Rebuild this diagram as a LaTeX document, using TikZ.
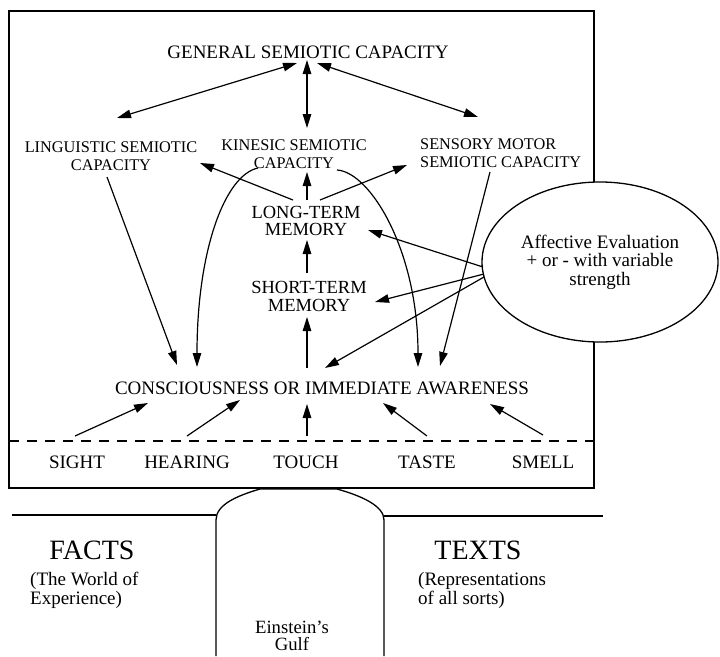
\documentclass[tikz,border=0pt]{standalone}
\usepackage{fontspec}
\setmainfont{Liberation Serif}
\usetikzlibrary{arrows.meta,positioning,shapes.geometric,calc}

\begin{document}
\begin{tikzpicture}[x=1pt, y=-1pt,
  lbl/.style={inner sep=0pt, font=\fontsize{19}{19}\selectfont},
  capl/.style={inner sep=0pt, align=center, font=\fontsize{16.3}{18}\selectfont},
  meml/.style={inner sep=0pt, align=center, font=\fontsize{18.5}{17.5}\selectfont},
  world/.style={inner sep=0pt, font=\fontsize{28}{28}\selectfont},
  note/.style={inner sep=0pt, align=left, anchor=west, font=\fontsize{19}{19}\selectfont},
  frame/.style={line width=1.3pt},
  flow/.style={-{Triangle[length=14pt,width=8.5pt]}, line width=1.2pt},
  both/.style={{Triangle[length=14pt,width=8.5pt]}-{Triangle[length=14pt,width=8.5pt]}, line width=1.2pt}]
\useasboundingbox (0,0) rectangle (720,656);

% mind box
\draw[frame] (9,11) rectangle (594,488);
\draw[frame, dash pattern=on 10pt off 8pt] (9,441) -- (594,441);

% facts / texts ground line and the gulf
\draw[frame] (12,515) -- (216,515);
\draw[frame] (384,516) -- (603,516);
\draw[frame] (216,656) -- (216,520) .. controls (216,505) and (236,496) .. (260,489)
  -- (337,489) .. controls (362,496) and (384,506) .. (384,520) -- (384,656);

\node[lbl] (gen) at (308,52) {GENERAL SEMIOTIC CAPACITY};
\node[capl] (ling) at (111,156) {LINGUISTIC SEMIOTIC\\CAPACITY};
\node[capl] (kin) at (294,154.5) {KINESIC SEMIOTIC\\CAPACITY};
\node[capl, align=left, anchor=west] (sens) at (420,153.5) {SENSORY MOTOR\\SEMIOTIC CAPACITY};
\node[meml] (ltm) at (306,221) {LONG-TERM\\MEMORY};
\node[meml] (stm) at (309,296.5) {SHORT-TERM\\MEMORY};
\node[lbl] (cons) at (322,388) {CONSCIOUSNESS OR IMMEDIATE AWARENESS};

\node[ellipse, draw, frame, fill=white, minimum width=236pt, minimum height=160pt,
  inner sep=0pt, align=center, font=\fontsize{19}{18.5}\selectfont] (aff) at (600,262)
  {Affective Evaluation\\+ or - with variable\\strength};

\node[lbl] (sight) at (77,462) {SIGHT};
\node[lbl] (hearing) at (187,462) {HEARING};
\node[lbl] (touch) at (306,462) {TOUCH};
\node[lbl] (taste) at (427,462) {TASTE};
\node[lbl] (smell) at (543,462) {SMELL};

\node[world] (facts) at (92,550) {FACTS};
\node[note] (factsnote) at (30,590) {(The World of\\Experience)};
\node[world] (texts) at (478,550) {TEXTS};
\node[note] (textsnote) at (418,590) {(Representations\\of all sorts)};
\node[meml, font=\fontsize{18.7}{17}\selectfont] (gulf) at (292,636) {Einstein's\\Gulf};

% capacities
\draw[both] ($(gen.center)+(-11,11)$) -- ($(ling.center)+(6,-38)$);
\draw[both] ($(gen.center)+(-1,8)$) -- ($(kin.center)+(13,-26.5)$);
\draw[both] ($(gen.center)+(9,11)$) -- ($(sens.west)+(58,-36.5)$);
\draw[flow] ($(ltm.center)+(-13,-21)$) -- ($(ling.center)+(89,7)$);
\draw[flow] ($(ltm.center)+(1,-21)$) -- ($(kin.center)+(13,17.5)$);
\draw[flow] ($(ltm.center)+(14,-21)$) -- ($(sens.west)+(-13,11.5)$);
\draw[flow] ($(stm.center)+(-2,-23.5)$) -- ($(ltm.center)+(1,19)$);
\draw[flow] ($(cons.center)+(-15,-20)$) -- ($(stm.center)+(-2,20.5)$);

% down to awareness
\draw[flow] ($(ling.center)+(-4,21)$) -- ($(cons.center)+(-145,-23)$);
\draw[flow] ($(kin.center)+(-36,13.5)$) .. controls ($(kin.center)+(-69,20.5)$) and ($(cons.center)+(-125,-138)$) .. ($(cons.center)+(-125,-21)$);
\draw[flow] ($(kin.center)+(43,15.5)$) .. controls ($(kin.center)+(76,17.5)$) and ($(cons.center)+(96,-138)$) .. ($(cons.center)+(96,-21)$);
\draw[flow] ($(sens.west)+(70,18.5)$) -- ($(cons.center)+(118,-22)$);

% affect
\draw[flow] ($(aff.center)+(-117,5)$) -- ($(ltm.center)+(62,9)$);
\draw[flow] ($(aff.center)+(-116,12)$) -- ($(stm.center)+(66,5.5)$);
\draw[flow] ($(aff.center)+(-116,15)$) -- ($(cons.center)+(3,-20)$);

% senses
\draw[flow] ($(sight.center)+(-2,-26)$) -- ($(cons.center)+(-174,15)$);
\draw[flow] ($(hearing.center)+(0,-26)$) -- ($(cons.center)+(-82,12)$);
\draw[flow] ($(touch.center)+(1,-26)$) -- ($(cons.center)+(-15,16)$);
\draw[flow] ($(taste.center)+(0,-26)$) -- ($(cons.center)+(61,15)$);
\draw[flow] ($(smell.center)+(0,-27)$) -- ($(cons.center)+(168,16)$);
\end{tikzpicture}
\end{document}
